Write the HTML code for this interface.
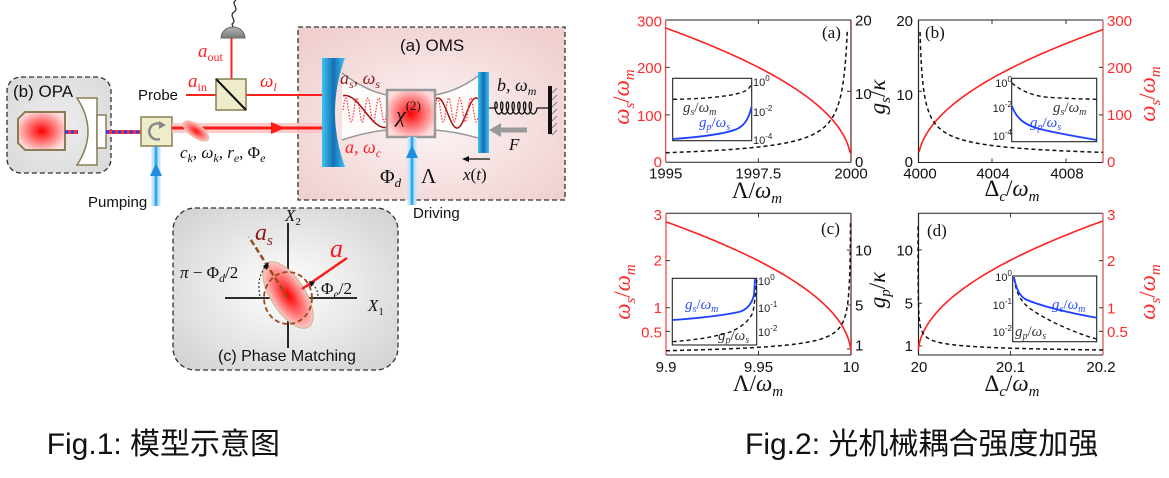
<!DOCTYPE html>
<html><head><meta charset="utf-8">
<style>
html,body{margin:0;padding:0;background:#fff;}
body{width:1169px;height:478px;overflow:hidden;}
svg{display:block;}
.s{font-family:"Liberation Sans",Arial,sans-serif;}
.m{font-family:"Liberation Serif","DejaVu Serif",serif;font-style:italic;}
.u{font-style:normal;}
.cap{font-family:"Liberation Sans","Noto Sans CJK SC",sans-serif;font-size:30px;fill:#111;}
.tk{font-family:"Liberation Sans",Arial,sans-serif;font-size:15px;}
.r{fill:#ff2a2a;}
.k{fill:#111;}
</style></head><body>
<svg width="1169" height="478" viewBox="0 0 1169 478" xmlns="http://www.w3.org/2000/svg">
<defs>
 <radialGradient id="pink" cx="50%" cy="55%" r="65%"><stop offset="0" stop-color="#fdf5f5"/><stop offset="1" stop-color="#f0cfcf"/></radialGradient>
 <radialGradient id="gray" cx="50%" cy="50%" r="65%"><stop offset="0" stop-color="#ffffff"/><stop offset="1" stop-color="#d3d3d3"/></radialGradient>
 <radialGradient id="gray2" cx="50%" cy="50%" r="65%"><stop offset="0" stop-color="#eeeeee"/><stop offset="1" stop-color="#dadada"/></radialGradient>
 <radialGradient id="red" cx="50%" cy="50%" r="55%"><stop offset="0" stop-color="#ff0000"/><stop offset=".55" stop-color="#ff7a7a"/><stop offset="1" stop-color="#ffdcdc"/></radialGradient>
 <radialGradient id="red2" cx="50%" cy="50%" r="60%"><stop offset="0" stop-color="#ff1010"/><stop offset=".6" stop-color="#ff9090"/><stop offset="1" stop-color="#ffe4e4"/></radialGradient>
 <linearGradient id="blue" x1="0" x2="1" y1="0" y2="0"><stop offset="0" stop-color="#3cc4f2"/><stop offset=".5" stop-color="#1670b4"/><stop offset="1" stop-color="#3cc4f2"/></linearGradient>
 <linearGradient id="dome" x1="0" x2="0" y1="0" y2="1"><stop offset="0" stop-color="#b8b8b8"/><stop offset="1" stop-color="#777"/></linearGradient>
</defs>

<!-- ============ LEFT DIAGRAM ============ -->
<!-- boxes -->
<rect x="298" y="27" width="267" height="173" fill="url(#pink)" stroke="#333" stroke-width="1.3" stroke-dasharray="5,3"/>
<rect x="7" y="77" width="104" height="96" rx="14" fill="url(#gray2)" stroke="#333" stroke-width="1.3" stroke-dasharray="5,3"/>
<rect x="173" y="208" width="225" height="162" rx="22" fill="url(#gray)" stroke="#333" stroke-width="1.3" stroke-dasharray="5,3"/>

<!-- detector -->
<path d="M236,0 C230,4 240,8 234,12 C228,16 238,20 232,24 L233,27" fill="none" stroke="#222" stroke-width="1.2"/>
<path d="M221,38 A12,11 0 0 1 245,38 Z" fill="url(#dome)" stroke="#666" stroke-width="1"/>
<line x1="231.5" y1="38" x2="231.5" y2="95" stroke="#ff2020" stroke-width="2"/>
<!-- probe -->
<line x1="186" y1="95" x2="322" y2="95" stroke="#ff2020" stroke-width="2"/>
<rect x="216" y="79" width="30" height="31" fill="#efecca" stroke="#8a7d55" stroke-width="1.5"/>
<line x1="216" y1="79" x2="246" y2="110" stroke="#111" stroke-width="2"/>
<text class="s" x="138" y="100" font-size="15" fill="#111">Probe</text>
<text class="m" x="198" y="57" font-size="19" fill="#ff2020">a<tspan class="u" font-size="12" dy="4">out</tspan></text>
<text class="m" x="188" y="87" font-size="19" fill="#ff2020">a<tspan class="u" font-size="12" dy="4">in</tspan></text>
<text class="m" x="260" y="87" font-size="19" fill="#ff2020">ω<tspan font-size="12" dy="4">l</tspan></text>

<!-- OPA -->
<text class="s" x="13" y="97" font-size="17" fill="#111">(b) OPA</text>
<polygon points="25,112 65,112 65,150 25,150 18,143 18,119" fill="url(#red)" stroke="#8a7d55" stroke-width="2"/>
<line x1="65" y1="132" x2="78" y2="132" stroke="#ff3030" stroke-width="4"/>
<line x1="65" y1="132" x2="78" y2="132" stroke="#2040ff" stroke-width="3" stroke-dasharray="3,3"/>
<path d="M77,98 Q99,131.5 77,165 L97,165 L97,98 Z" fill="#fff" stroke="#8a7d55" stroke-width="1.5"/>
<rect x="97" y="115" width="9" height="33" fill="#fff" stroke="#8a7d55" stroke-width="1.5"/>
<line x1="106" y1="132" x2="141" y2="132" stroke="#ff3030" stroke-width="4"/>
<line x1="106" y1="132" x2="141" y2="132" stroke="#2040ff" stroke-width="3" stroke-dasharray="3,3"/>

<!-- pumping beam -->
<line x1="156" y1="146" x2="156" y2="206" stroke="#bfe6ff" stroke-width="9"/>
<line x1="156" y1="146" x2="156" y2="206" stroke="#33aaf0" stroke-width="3"/>
<polygon points="150,176 156,163 162,176" fill="#1e8fe0"/>
<text class="s" x="88" y="207" font-size="15" fill="#111">Pumping</text>

<!-- circulator -->
<rect x="141" y="117" width="31" height="29" fill="#efecca" stroke="#8a7d55" stroke-width="1.5"/>
<path d="M160,139 A8,8 0 1 1 162,125" fill="none" stroke="#888" stroke-width="2.5"/>
<polygon points="159,121 166,125 159,129" fill="#888"/>

<!-- main red beam -->
<line x1="172" y1="128" x2="322" y2="128" stroke="#ffc4c4" stroke-width="10" opacity=".85"/>
<line x1="172" y1="128" x2="322" y2="128" stroke="#ff1a1a" stroke-width="3"/>
<polygon points="271,122 285,128 271,134" fill="#ff1a1a"/>
<ellipse cx="196" cy="131" rx="15" ry="6.5" transform="rotate(35 196 131)" fill="url(#red2)" stroke="#e8c4a4" stroke-width="1"/>
<text class="m" x="180" y="158" font-size="17" fill="#111">c<tspan font-size="12" dy="4">k</tspan><tspan dy="-4">, ω</tspan><tspan font-size="12" dy="4">k</tspan><tspan dy="-4">, r</tspan><tspan font-size="12" dy="4">e</tspan><tspan dy="-4" class="u">, Φ</tspan><tspan font-size="12" dy="4">e</tspan></text>

<!-- OMS -->
<text class="s" x="400" y="51" font-size="17" fill="#111">(a) OMS</text>
<path d="M342,73 Q366,91 387,95 L387,130 Q366,132 342,140 Z" fill="#fff" opacity=".85"/>
<path d="M435,95 Q458,91 478,76 L478,138 Q458,132 435,130 Z" fill="#fff" opacity=".85"/>
<path d="M342,73 Q366,91 387,95 M435,95 Q458,91 478,76 M342,140 Q366,132 387,130 M435,130 Q458,132 478,138" fill="none" stroke="#999" stroke-width="1.5"/>
<path id="wave1" d="" fill="none" stroke="#a01010" stroke-width="1.5"/>
<path id="wave2" d="" fill="none" stroke="#ff3030" stroke-width="1.2" stroke-dasharray="1.5,1.5"/>
<path d="M322,58 H345 Q325,112.5 345,167 H322 Z" fill="url(#blue)"/>
<rect x="478" y="72" width="11" height="81" fill="url(#blue)"/>
<rect x="387" y="90" width="48" height="47" fill="url(#red)" stroke="#999" stroke-width="2.5"/>
<text class="m" x="396" y="122" font-size="22" fill="#111">χ<tspan class="u" font-size="13" dy="-12">(2)</tspan></text>
<text class="m" x="340" y="84" font-size="18" fill="#8b1c1c">a<tspan font-size="12" dy="4">s</tspan><tspan dy="-4">, ω</tspan><tspan font-size="12" dy="4">s</tspan></text>
<text class="m" x="345" y="153" font-size="18" fill="#ff2020">a, ω<tspan font-size="12" dy="4">c</tspan></text>
<!-- driving -->
<line x1="412" y1="137" x2="412" y2="205" stroke="#bfe6ff" stroke-width="9"/>
<line x1="412" y1="137" x2="412" y2="205" stroke="#33aaf0" stroke-width="3"/>
<polygon points="406,158 412,145 418,158" fill="#1e8fe0"/>
<text class="m u" x="380" y="183" font-size="20" fill="#111">Φ<tspan class="m" font-size="13" dy="4">d</tspan></text>
<text class="m u" x="421" y="183" font-size="21" fill="#111">Λ</text>
<text class="s" x="413" y="218" font-size="15" fill="#111">Driving</text>
<!-- spring & wall -->
<path id="spring" d="" fill="none" stroke="#111" stroke-width="1.3"/>
<rect x="548" y="86" width="4" height="48" fill="#111"/>
<path d="M552,93 l5,-5 M552,100 l5,-5 M552,107 l5,-5 M552,114 l5,-5 M552,121 l5,-5 M552,128 l5,-5 M552,135 l5,-5" stroke="#888" stroke-width="1.2"/>
<text class="m" x="497" y="91" font-size="18" fill="#111">b, ω<tspan font-size="12" dy="4">m</tspan></text>
<line x1="527" y1="130" x2="498" y2="130" stroke="#9a9a9a" stroke-width="5"/>
<polygon points="489,130 501,123 501,137" fill="#9a9a9a"/>
<text class="m" x="509" y="150" font-size="17" fill="#111">F</text>
<line x1="490" y1="159" x2="467" y2="159" stroke="#111" stroke-width="1.2"/>
<polygon points="462,159 469,156 469,162" fill="#111"/>
<text class="m" x="463" y="180" font-size="17" fill="#111">x<tspan class="u">(</tspan>t<tspan class="u">)</tspan></text>

<!-- Phase matching -->
<line x1="225" y1="298" x2="357" y2="298" stroke="#111" stroke-width="1.8"/>
<line x1="288" y1="223" x2="288" y2="348" stroke="#111" stroke-width="1.8"/>
<ellipse cx="288" cy="295" rx="38" ry="17" transform="rotate(57 288 295)" fill="url(#red)" stroke="#cbbd94" stroke-width="1.2"/>
<ellipse cx="288" cy="298" rx="24" ry="26" fill="none" stroke="#9b4a1a" stroke-width="1.8" stroke-dasharray="5,3"/>
<line x1="288" y1="298" x2="249" y2="237" stroke="#9b4a1a" stroke-width="2.5" stroke-dasharray="6,3"/>
<line x1="302" y1="289" x2="347" y2="258" stroke="#ff1a1a" stroke-width="2.5"/>
<path d="M260,296 Q256,278 266,266" fill="none" stroke="#111" stroke-width="1" stroke-dasharray="2,2"/>
<polygon points="263,266 269,262 267,270" fill="#111"/>
<path d="M318,296 Q318,289 312,284" fill="none" stroke="#111" stroke-width="1" stroke-dasharray="2,2"/>
<polygon points="309,281 315,282 311,287" fill="#111"/>
<text class="m" x="285" y="221" font-size="17" fill="#111">X<tspan class="u" font-size="11" dy="4">2</tspan></text>
<text class="m" x="368" y="311" font-size="17" fill="#111">X<tspan class="u" font-size="11" dy="4">1</tspan></text>
<text class="m" x="255" y="240" font-size="24" fill="#8b1c1c">a<tspan font-size="15" dy="5">s</tspan></text>
<text class="m" x="330" y="257" font-size="26" fill="#ff1a1a">a</text>
<text class="m" x="180" y="278" font-size="17" fill="#111">π <tspan class="u">− Φ</tspan><tspan font-size="12" dy="4">d</tspan><tspan class="u" dy="-4">/2</tspan></text>
<text class="m u" x="321" y="294" font-size="17" fill="#111">Φ<tspan class="m" font-size="12" dy="4">e</tspan><tspan dy="-4">/2</tspan></text>
<text class="s" x="218" y="361" font-size="16" fill="#111">(c) Phase Matching</text>

<!-- ============ CHARTS ============ -->
<!-- Panel (a) -->
<g>
 <line x1="665.7" y1="20" x2="851" y2="20" stroke="#222" stroke-width="1"/>
 <line x1="665.7" y1="162.3" x2="851" y2="162.3" stroke="#222" stroke-width="1"/>
 <line x1="665.7" y1="20" x2="665.7" y2="162.3" stroke="#ff3a3a" stroke-width="1.2"/>
 <line x1="851" y1="20" x2="851" y2="162.3" stroke="#6a1a1a" stroke-width="1.2"/>
 <path d="M665.7,67.4h4M665.7,114.9h4M851,91.2h-4M758.35,162.3v-4M758.35,20v4" stroke="#333" stroke-width="1"/>
 <g class="tk r" text-anchor="end"><text x="662" y="26.5">300</text><text x="662" y="73">200</text><text x="662" y="121">100</text><text x="662" y="167">0</text></g>
 <g class="tk k"><text x="855" y="25.5">20</text><text x="855" y="99">10</text><text x="855" y="167">0</text></g>
 <g class="tk k" text-anchor="middle"><text x="665.7" y="178.5">1995</text><text x="758.35" y="178.5">1997.5</text><text x="851" y="178.5">2000</text></g>
 <text class="m u" x="757" y="198" font-size="23" fill="#111" text-anchor="middle">Λ<tspan>/</tspan><tspan class="m">ω</tspan><tspan class="m" font-size="15" dy="5">m</tspan></text>
 <text class="m" transform="translate(629,97) rotate(-90)" font-size="23" fill="#ff2a2a" text-anchor="middle">ω<tspan font-size="15" dy="5">s</tspan><tspan dy="-5" class="u">/</tspan>ω<tspan font-size="15" dy="5">m</tspan></text>
 <path id="ra" d="" fill="none" stroke="#ff2020" stroke-width="1.6"/>
 <path id="da" d="" fill="none" stroke="#111" stroke-width="1.5" stroke-dasharray="4,3"/>
 <text class="m u" x="822" y="38" font-size="17" fill="#111">(a)</text>
 <rect x="672.7" y="78.3" width="79" height="62.4" fill="#fff" stroke="#222" stroke-width="1.1"/>
 <path d="M673,99.3 C700,99 725,97 740,93 C747,91 750,88 751.5,84" fill="none" stroke="#111" stroke-width="1.4" stroke-dasharray="4,3"/>
 <path d="M673,139 C700,137 725,134 737,129 C745,125 749,118 751.5,107" fill="none" stroke="#2040ff" stroke-width="1.8"/>
 <g class="s" font-size="11" fill="#222"><text x="753" y="86">10<tspan font-size="8" dy="-5">0</tspan></text><text x="753" y="116">10<tspan font-size="8" dy="-5">-2</tspan></text><text x="753" y="144">10<tspan font-size="8" dy="-5">-4</tspan></text></g>
 <text class="m" x="683" y="112" font-size="15" fill="#333">g<tspan font-size="10" dy="3">s</tspan><tspan dy="-3" class="u">/</tspan>ω<tspan font-size="10" dy="3">m</tspan></text>
 <text class="m" x="699" y="127" font-size="15" fill="#2a4aff">g<tspan font-size="10" dy="3">p</tspan><tspan dy="-3" class="u">/</tspan>ω<tspan font-size="10" dy="3">s</tspan></text>
</g>

<!-- Panel (b) -->
<g>
 <line x1="918" y1="20" x2="1103" y2="20" stroke="#222" stroke-width="1"/>
 <line x1="918" y1="162.5" x2="1103" y2="162.5" stroke="#222" stroke-width="1"/>
 <line x1="918.5" y1="20" x2="918.5" y2="162.5" stroke="#222" stroke-width="1.2"/>
 <line x1="1103" y1="20" x2="1103" y2="162.5" stroke="#cc5050" stroke-width="1.2"/>
 <path d="M918,91.2h4M1103,67.4h-4M1103,114.9h-4M992,162.5v-4M1066,162.5v-4M992,20v4M1066,20v4" stroke="#333" stroke-width="1"/>
 <g class="tk k" text-anchor="end"><text x="913" y="26">20</text><text x="913" y="100">10</text><text x="913" y="167">0</text></g>
 <g class="tk r"><text x="1107" y="26">300</text><text x="1107" y="73">200</text><text x="1107" y="120">100</text><text x="1107" y="167">0</text></g>
 <g class="tk k" text-anchor="middle"><text x="920" y="178.5">4000</text><text x="993" y="178.5">4004</text><text x="1067" y="178.5">4008</text></g>
 <text class="m u" x="1012" y="196" font-size="23" fill="#111" text-anchor="middle">Δ<tspan class="m" font-size="15" dy="5">c</tspan><tspan dy="-5">/</tspan><tspan class="m">ω</tspan><tspan class="m" font-size="15" dy="5">m</tspan></text>
 <text class="m" transform="translate(885,97) rotate(-90)" font-size="23" fill="#111" text-anchor="middle">g<tspan font-size="15" dy="5">s</tspan><tspan dy="-5" class="u">/</tspan>κ</text>
 <text class="m" transform="translate(1155,94) rotate(-90)" font-size="23" fill="#ff2a2a" text-anchor="middle">ω<tspan font-size="15" dy="5">s</tspan><tspan dy="-5" class="u">/</tspan>ω<tspan font-size="15" dy="5">m</tspan></text>
 <path id="rb" d="" fill="none" stroke="#ff2020" stroke-width="1.6"/>
 <path id="db" d="" fill="none" stroke="#111" stroke-width="1.5" stroke-dasharray="4,3"/>
 <text class="m u" x="925" y="38" font-size="17" fill="#111">(b)</text>
 <rect x="1011.7" y="78.3" width="85" height="63.4" fill="#fff" stroke="#222" stroke-width="1.1"/>
 <path d="M1012,83 C1020,90 1030,95 1045,97 C1065,98.5 1085,99 1096.5,99.3" fill="none" stroke="#111" stroke-width="1.4" stroke-dasharray="4,3"/>
 <path d="M1012,106 C1016,118 1024,125 1040,129 C1060,134 1080,137 1096.5,140" fill="none" stroke="#2040ff" stroke-width="1.8"/>
 <g class="s" font-size="11" fill="#222" text-anchor="end"><text x="1012" y="87">10<tspan font-size="8" dy="-5">0</tspan></text><text x="1012" y="112">10<tspan font-size="8" dy="-5">-2</tspan></text><text x="1012" y="140">10<tspan font-size="8" dy="-5">-4</tspan></text></g>
 <text class="m" x="1053" y="112" font-size="15" fill="#333">g<tspan font-size="10" dy="3">s</tspan><tspan dy="-3" class="u">/</tspan>ω<tspan font-size="10" dy="3">m</tspan></text>
 <text class="m" x="1030" y="127" font-size="15" fill="#2a4aff">g<tspan font-size="10" dy="3">p</tspan><tspan dy="-3" class="u">/</tspan>ω<tspan font-size="10" dy="3">s</tspan></text>
</g>

<!-- Panel (c) -->
<g>
 <line x1="666" y1="213.3" x2="851" y2="213.3" stroke="#222" stroke-width="1"/>
 <line x1="666" y1="355" x2="851" y2="355" stroke="#222" stroke-width="1"/>
 <line x1="666" y1="213.3" x2="666" y2="355" stroke="#ff3a3a" stroke-width="1.2"/>
 <line x1="851" y1="213.3" x2="851" y2="355" stroke="#6a1a1a" stroke-width="1.2"/>
 <path d="M666,260.6h4M666,307.8h4M666,331.4h4M851,250h-4M851,305h-4M851,349h-4M758.5,355v-4M758.5,213.3v4" stroke="#333" stroke-width="1"/>
 <g class="tk r" text-anchor="end"><text x="662" y="220">3</text><text x="662" y="265.5">2</text><text x="662" y="313">1</text><text x="662" y="337.5">0.5</text></g>
 <g class="tk k"><text x="855" y="255.5">10</text><text x="855" y="310.5">5</text><text x="855" y="350.5">1</text></g>
 <g class="tk k" text-anchor="middle"><text x="666" y="372">9.9</text><text x="758.5" y="372">9.95</text><text x="851" y="372">10</text></g>
 <text class="m u" x="758" y="391" font-size="23" fill="#111" text-anchor="middle">Λ<tspan>/</tspan><tspan class="m">ω</tspan><tspan class="m" font-size="15" dy="5">m</tspan></text>
 <text class="m" transform="translate(630,292) rotate(-90)" font-size="23" fill="#ff2a2a" text-anchor="middle">ω<tspan font-size="15" dy="5">s</tspan><tspan dy="-5" class="u">/</tspan>ω<tspan font-size="15" dy="5">m</tspan></text>
 <path id="rc" d="" fill="none" stroke="#ff2020" stroke-width="1.6"/>
 <path id="dc" d="" fill="none" stroke="#111" stroke-width="1.5" stroke-dasharray="4,3"/>
 <text class="m u" x="821" y="234" font-size="17" fill="#111">(c)</text>
 <rect x="672.3" y="278.3" width="84.4" height="66.7" fill="#fff" stroke="#222" stroke-width="1.1"/>
 <path d="M672.5,341.7 C695,340 715,337 730,332 C742,327 750,320 753,312 C755,300 756,290 756.5,280" fill="none" stroke="#111" stroke-width="1.4" stroke-dasharray="4,3"/>
 <path d="M672.5,320 C700,318 725,315 740,311.7 C748,309 752,303 754,295 L755,279" fill="none" stroke="#2040ff" stroke-width="1.8"/>
 <g class="s" font-size="11" fill="#222"><text x="758" y="285">10<tspan font-size="8" dy="-5">0</tspan></text><text x="758" y="312">10<tspan font-size="8" dy="-5">-1</tspan></text><text x="758" y="336">10<tspan font-size="8" dy="-5">-2</tspan></text></g>
 <text class="m" x="685" y="309" font-size="15" fill="#2a4aff">g<tspan font-size="10" dy="3">s</tspan><tspan dy="-3" class="u">/</tspan>ω<tspan font-size="10" dy="3">m</tspan></text>
 <text class="m" x="718" y="340" font-size="15" fill="#333">g<tspan font-size="10" dy="3">p</tspan><tspan dy="-3" class="u">/</tspan>ω<tspan font-size="10" dy="3">s</tspan></text>
</g>

<!-- Panel (d) -->
<g>
 <line x1="918" y1="213.3" x2="1103" y2="213.3" stroke="#222" stroke-width="1"/>
 <line x1="918" y1="355" x2="1103" y2="355" stroke="#222" stroke-width="1"/>
 <line x1="918.5" y1="213.3" x2="918.5" y2="355" stroke="#222" stroke-width="1.2"/>
 <line x1="1103" y1="213.3" x2="1103" y2="355" stroke="#cc5050" stroke-width="1.2"/>
 <path d="M918,249.9h4M918,303.3h4M918,345.9h4M1103,260.6h-4M1103,307.8h-4M1103,331.4h-4M1010.5,355v-4M1010.5,213.3v4" stroke="#333" stroke-width="1"/>
 <g class="tk k" text-anchor="end"><text x="913" y="255.5">10</text><text x="913" y="308.5">5</text><text x="913" y="351">1</text></g>
 <g class="tk r"><text x="1107" y="220">3</text><text x="1107" y="266">2</text><text x="1107" y="313.5">1</text><text x="1107" y="337">0.5</text></g>
 <g class="tk k" text-anchor="middle"><text x="919" y="372">20</text><text x="1010.5" y="372">20.1</text><text x="1101" y="372">20.2</text></g>
 <text class="m u" x="1012" y="391" font-size="23" fill="#111" text-anchor="middle">Δ<tspan class="m" font-size="15" dy="5">c</tspan><tspan dy="-5">/</tspan><tspan class="m">ω</tspan><tspan class="m" font-size="15" dy="5">m</tspan></text>
 <text class="m" transform="translate(885,290) rotate(-90)" font-size="23" fill="#111" text-anchor="middle">g<tspan font-size="15" dy="5">p</tspan><tspan dy="-5" class="u">/</tspan>κ</text>
 <text class="m" transform="translate(1155,292) rotate(-90)" font-size="23" fill="#ff2a2a" text-anchor="middle">ω<tspan font-size="15" dy="5">s</tspan><tspan dy="-5" class="u">/</tspan>ω<tspan font-size="15" dy="5">m</tspan></text>
 <path id="rd" d="" fill="none" stroke="#ff2020" stroke-width="1.6"/>
 <path id="dd" d="" fill="none" stroke="#111" stroke-width="1.5" stroke-dasharray="4,3"/>
 <text class="m u" x="927" y="236" font-size="17" fill="#111">(d)</text>
 <rect x="1012.7" y="276" width="84" height="65.7" fill="#fff" stroke="#222" stroke-width="1.1"/>
 <path d="M1014,278 C1016,292 1020,300 1028,307 C1045,320 1075,333 1096.5,339" fill="none" stroke="#111" stroke-width="1.4" stroke-dasharray="4,3"/>
 <path d="M1014,277 C1016,288 1019,295 1025,299 C1040,306 1070,313 1096.5,317.7" fill="none" stroke="#2040ff" stroke-width="1.8"/>
 <g class="s" font-size="11" fill="#222" text-anchor="end"><text x="1012" y="281">10<tspan font-size="8" dy="-5">0</tspan></text><text x="1012" y="309">10<tspan font-size="8" dy="-5">-1</tspan></text><text x="1012" y="336">10<tspan font-size="8" dy="-5">-2</tspan></text></g>
 <text class="m" x="1052" y="309" font-size="15" fill="#2a4aff">g<tspan font-size="10" dy="3">s</tspan><tspan dy="-3" class="u">/</tspan>ω<tspan font-size="10" dy="3">m</tspan></text>
 <text class="m" x="1015" y="336" font-size="15" fill="#333">g<tspan font-size="10" dy="3">p</tspan><tspan dy="-3" class="u">/</tspan>ω<tspan font-size="10" dy="3">s</tspan></text>
</g>

<!-- captions -->
<text class="cap" x="46.7" y="454">Fig.1: 模型示意图</text>
<text class="cap" x="745" y="454">Fig.2: 光机械耦合强度加强</text>
</svg>
<script>
(function(){
 function geo(a,b,n){var r=[];for(var i=0;i<=n;i++)r.push(a*Math.pow(b/a,i/n));return r;}
 function P(arr){return 'M'+arr.map(function(p){return p[0].toFixed(2)+','+p[1].toFixed(2);}).join(' L');}
 function set(id,d){document.getElementById(id).setAttribute('d',d);}
 // (a)
 set('ra',P(geo(5,0.025,220).map(function(d){var w=126.6*Math.sqrt(d);return [665.7+(5-d)*37.06,162.3-w*0.4743];})));
 set('da',P(geo(5,0.1,220).map(function(d){var g=1.35*Math.pow(5/d,0.67);return [665.7+(5-d)*37.06,162.3-g*7.115];})));
 // (b)
 set('rb',P(geo(0.06,10,220).map(function(d){var w=88.5*Math.sqrt(d);return [918+d*18.5,162.3-w*0.4743];})));
 set('db',P(geo(0.11,10,220).map(function(d){var g=1.4*Math.pow(10/d,0.57);return [918+d*18.5,162.3-g*7.115];})));
 // (c)
 set('rc',P(geo(0.1,0.00015,240).map(function(d){var w=8.92*Math.sqrt(d);return [851-d*1850,355-w*47.2];})));
 set('dc',P(geo(0.1,0.00025,240).map(function(d){var v=0.84*Math.pow(0.1/d,0.45);return [851-d*1850,355-(v-0.45)*11];})));
 // (d)
 set('rd',P(geo(0.0003,0.2,240).map(function(d){var w=6.35*Math.sqrt(d);return [918+d*925,355-w*47.2];})));
 set('dd',P(geo(0.00004,0.2,240).map(function(d){var v=0.62*Math.pow(0.2/d,0.35);return [918+d*925,356.6-10.67*v];})));
 // spring
 var s='M489,108 L497,108';
 for(var i=0;i<=300;i++){var t=i/300*14*Math.PI;var x=497+0.91*t+2.4*Math.cos(t)-2.4;var y=108-6*Math.sin(t);s+=' L'+x.toFixed(2)+','+y.toFixed(2);}
 s+=' L548,108';
 set('spring',s);
 // waves
 var w1=[],w2=[],a=[],b=[];
 for(var x=343;x<=387;x+=0.5){a.push([x,111.5-16*Math.cos(Math.PI*(x-345)/40)]);b.push([x,110-12*Math.sin(2*Math.PI*(x-343)/11)]);}
 var a2=[],b2=[];
 for(var x=435;x<=478;x+=0.5){a2.push([x,113+15*Math.cos(Math.PI*(x-457)/19)]);b2.push([x,110-12*Math.sin(2*Math.PI*(x-435)/11)]);}
 set('wave1',P(a)+' '+P(a2));
 set('wave2',P(b)+' '+P(b2));
})();
</script>
</body></html>
